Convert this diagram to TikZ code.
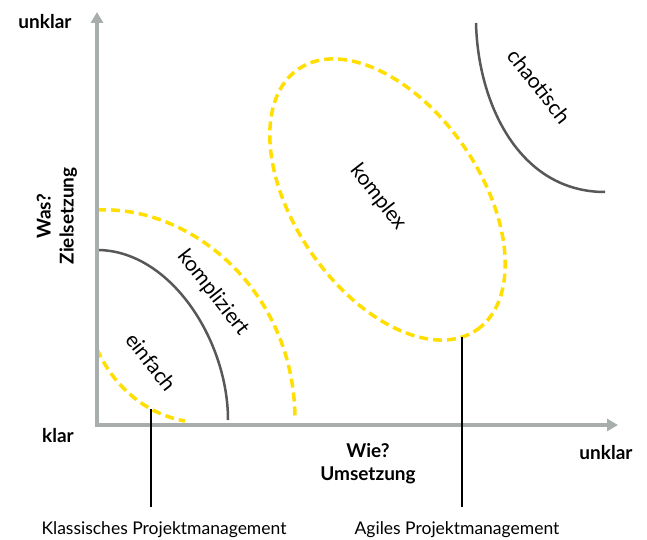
\documentclass[tikz,border=0pt]{standalone}
\usepackage{fontspec}
\setmainfont{Lato}
\usepackage{tikz}
\usetikzlibrary{arrows.meta}
\definecolor{axisgray}{RGB}{167,174,173}
\definecolor{curvegray}{RGB}{88,88,88}
\definecolor{zoneyellow}{RGB}{255,222,0}
\tikzset{
  axisline/.style={draw=axisgray,line width=3.5pt,line join=miter,{Triangle[width=12pt,length=11pt]}-{Triangle[width=12pt,length=11pt]}},
  zoneline/.style={draw=zoneyellow,line width=3.5pt,dash pattern=on 9pt off 5pt},
  borderline/.style={draw=curvegray,line width=2.5pt},
  zonetext/.style={font=\fontsize{21}{24}\selectfont,rotate=-52,inner sep=1pt},
  axistext/.style={font=\bfseries\fontsize{19}{23}\selectfont,align=center},
  methodtext/.style={font=\fontsize{17.5}{20}\selectfont}
}

\begin{document}
\begin{tikzpicture}[x=1pt,y=-1pt]
      \useasboundingbox (0,0) rectangle (647,540);
      \coordinate (origin) at (97,425);
      \coordinate (ytop) at (97,12);
      \coordinate (xend) at (618,425);

      \draw[zoneline] (97,349) .. controls (115,390) and (150,415) .. coordinate[pos=0.67] (classic) (185,421);
      \draw[borderline] (97,250) .. controls (170,250) and (228,340) .. (228,420);
      \draw[zoneline] (97,210) .. controls (190,205) and (295,290) .. (295,420);
      \begin{scope}[shift={(387.5,199.5)},rotate=-55.6]
        \draw[zoneline] (0,0) ellipse [x radius=158pt,y radius=93pt];
        \coordinate (agile) at (10:158 and 93);
      \end{scope}
      \draw[borderline] (476,23) .. controls (478,105) and (520,192) .. (605,192);

      \node[zonetext](einfach) at (151,362){einfach};
      \node[zonetext](kompliziert) at (213,293){kompliziert};
      \node[zonetext](komplex) at (378,197){komplex};
      \node[zonetext](chaotisch) at (539,86){chaotisch};

      \draw[axisline] (ytop) -- (origin) -- (xend);
      \node[axistext](yunklar) at (45,22){unklar};
      \node[axistext](yklar) at (58,436){klar};
      \node[axistext](xunklar) at (606,453){unklar};
      \node[axistext](wie) at (368,464){Wie?\\Umsetzung};
      \node[axistext,rotate=90](was) at (57,216){Was?\\Zielsetzung};

      \node[methodtext](klassisch) at (164,530){Klassisches Projektmanagement};
      \node[methodtext](agil) at (457,530){Agiles Projektmanagement};
      \draw[line width=1.3pt] (classic) -- ([yshift=11pt]classic |- klassisch.north);
      \draw[line width=1.3pt] (agile) -- ([yshift=11pt]agile |- agil.north);
    \end{tikzpicture}
\end{document}
